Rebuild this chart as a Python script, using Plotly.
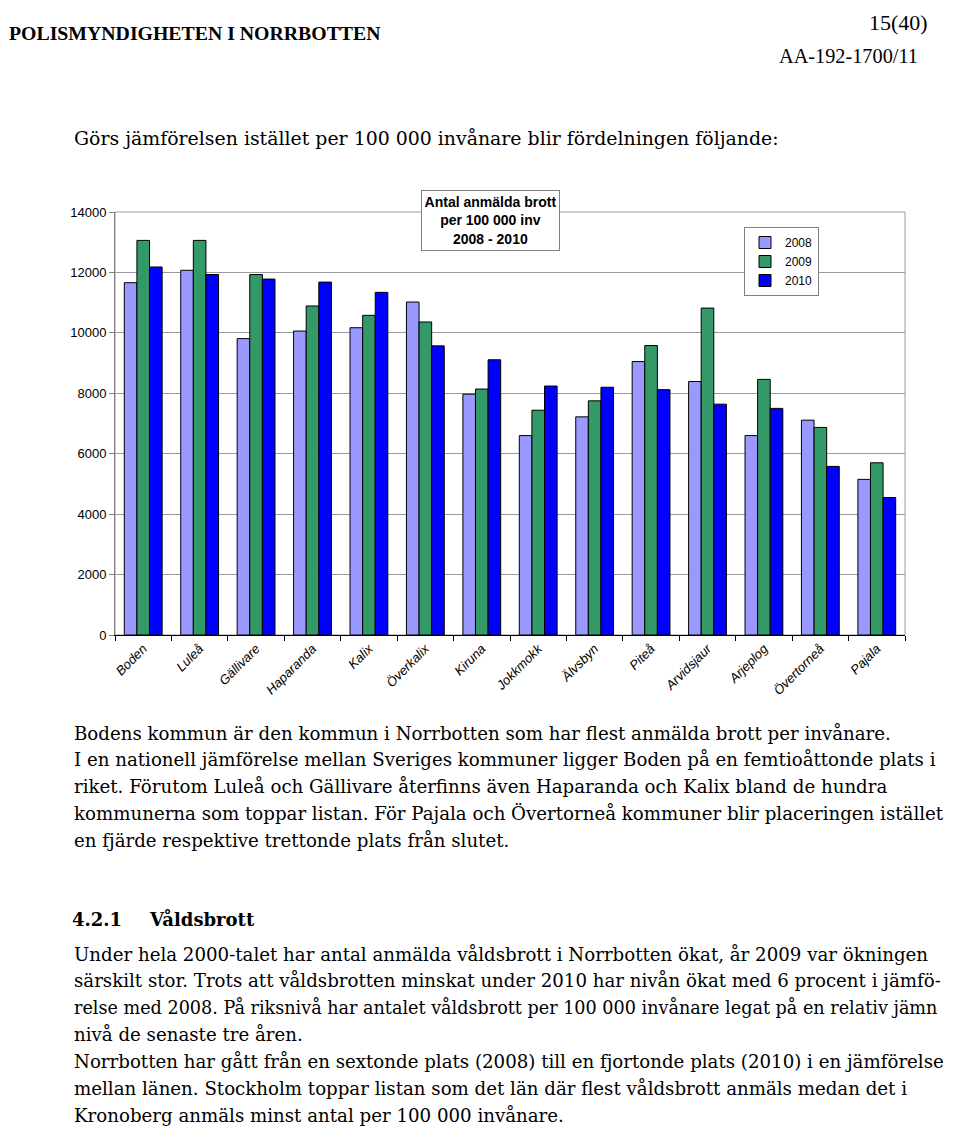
import plotly.graph_objects as go

# ---------------- data ----------------
kommuner = ["Boden", "Luleå", "Gällivare", "Haparanda", "Kalix", "Överkalix", "Kiruna",
            "Jokkmokk", "Älvsbyn", "Piteå", "Arvidsjaur", "Arjeplog", "Övertorneå", "Pajala"]
v2008 = [11660, 12070, 9810, 10060, 10170, 11020, 7970, 6600, 7220, 9050, 8390, 6600, 7110, 5150]
v2009 = [13060, 13060, 11930, 10890, 10580, 10360, 8140, 7440, 7750, 9580, 10820, 8460, 6870, 5700]
v2010 = [12180, 11930, 11780, 11680, 11340, 9570, 9110, 8240, 8200, 8120, 7640, 7500, 5580, 4550]
years = ["2008", "2009", "2010"]
colors = ["#9999FF", "#339966", "#0000FF"]
yticks = [0, 2000, 4000, 6000, 8000, 10000, 12000, 14000]

OFF = 8                      # default body margin of the page
W, H = 960 - OFF, 1134 - OFF
PL, PR, PT, PB = 115, 905, 212, 635  # plot area in page pixels


def px(x):
    return (x - PL) / (PR - PL)


def py(y):
    return (PB - y) / (PB - PT)


fig = go.Figure()
for name, vals, col in zip(years, [v2008, v2009, v2010], colors):
    fig.add_trace(go.Bar(x=kommuner, y=vals, name=name,
                         marker=dict(color=col, line=dict(color="black", width=1))))

SANS = "Liberation Sans, Arial, sans-serif"
SERIF = "Liberation Serif, Times New Roman, serif"
BODY = "DejaVu Serif, serif"
BS = 18.2

fig.update_layout(
    width=W, height=H,
    margin=dict(l=PL - OFF, r=W - (PR - OFF), t=PT - OFF, b=H - (PB - OFF), autoexpand=False),
    paper_bgcolor="white", plot_bgcolor="white",
    barmode="group", bargap=0.33, bargroupgap=0,
    font=dict(family=SANS, size=12, color="black"),
    showlegend=True,
    legend=dict(x=px(819), y=py(227), xanchor="right", yanchor="top",
                bgcolor="white", bordercolor="#808080", borderwidth=1,
                font=dict(family=SANS, size=12, color="black"),
                tracegroupgap=0, itemwidth=30),
    shapes=[dict(type="rect", xref="paper", yref="paper", x0=0, x1=1, y0=0, y1=1,
                 line=dict(color="#9a9a9a", width=1), layer="below")],
)
fig.update_xaxes(showline=True, linecolor="black", linewidth=1,
                 ticks="outside", tickson="boundaries", ticklen=5, tickcolor="black",
                 tickangle=-45, tickfont=dict(family=SANS, size=13, style="italic"),
                 showgrid=False)
fig.update_yaxes(range=[0, 14000], tickvals=yticks, ticktext=[str(t) for t in yticks],
                 showline=True, linecolor="#808080", linewidth=1,
                 ticks="outside", ticklen=5, tickcolor="#808080",
                 showgrid=True, gridcolor="#9a9a9a", gridwidth=1, zeroline=False,
                 tickfont=dict(family=SANS, size=13))

# chart title box
fig.add_annotation(x=px(490.5), y=py(220.5), xref="paper", yref="paper",
                   text="<b>Antal anmälda brott<br>per 100 000 inv<br>2008 - 2010</b>",
                   showarrow=False, align="center", xanchor="center", yanchor="middle",
                   font=dict(family=SANS, size=14, color="black"),
                   bgcolor="white", bordercolor="#808080", borderwidth=1, borderpad=3,
                   width=131, height=53)


def txt(x, y, s, size=BS, bold=False, anchor="left", family=BODY):
    fig.add_annotation(x=px(x), y=py(y), xref="paper", yref="paper",
                       text=("<b>%s</b>" % s) if bold else s, showarrow=False,
                       xanchor=anchor, yanchor="middle", align=anchor,
                       font=dict(family=family, size=size, color="black"))


# page header
txt(7, 33, "POLISMYNDIGHETEN I NORRBOTTEN", size=19.8, bold=True, family=SERIF)
txt(930, 22, "15(40)", size=22, anchor="right", family=SERIF)
txt(920, 56, "AA-192-1700/11", size=20.3, anchor="right", family=SERIF)
txt(72, 138, "Görs jämförelsen istället per 100 000 invånare blir fördelningen följande:", size=18.9)

para1 = [
    "Bodens kommun är den kommun i Norrbotten som har flest anmälda brott per invånare.",
    "I en nationell jämförelse mellan Sveriges kommuner ligger Boden på en femtioåttonde plats i",
    "riket. Förutom Luleå och Gällivare återfinns även Haparanda och Kalix bland de hundra",
    "kommunerna som toppar listan. För Pajala och Övertorneå kommuner blir placeringen istället",
    "en fjärde respektive trettonde plats från slutet.",
]
for i, s in enumerate(para1):
    txt(72, 733 + i * 26.8, s)

txt(70, 919, "4.2.1", size=18, bold=True)
txt(147, 919, "Våldsbrott", size=18, bold=True)

para2 = [
    "Under hela 2000-talet har antal anmälda våldsbrott i Norrbotten ökat, år 2009 var ökningen",
    "särskilt stor. Trots att våldsbrotten minskat under 2010 har nivån ökat med 6 procent i jämfö-",
    "relse med 2008. På riksnivå har antalet våldsbrott per 100 000 invånare legat på en relativ jämn",
    "nivå de senaste tre åren.",
    "Norrbotten har gått från en sextonde plats (2008) till en fjortonde plats (2010) i en jämförelse",
    "mellan länen. Stockholm toppar listan som det län där flest våldsbrott anmäls medan det i",
    "Kronoberg anmäls minst antal per 100 000 invånare.",
]
para2_sizes = [BS, BS, 17.6, BS, BS, BS, BS]
for i, (s, fs) in enumerate(zip(para2, para2_sizes)):
    txt(72, 954 + i * 26.9, s, size=fs)

fig.write_html("out.html")
